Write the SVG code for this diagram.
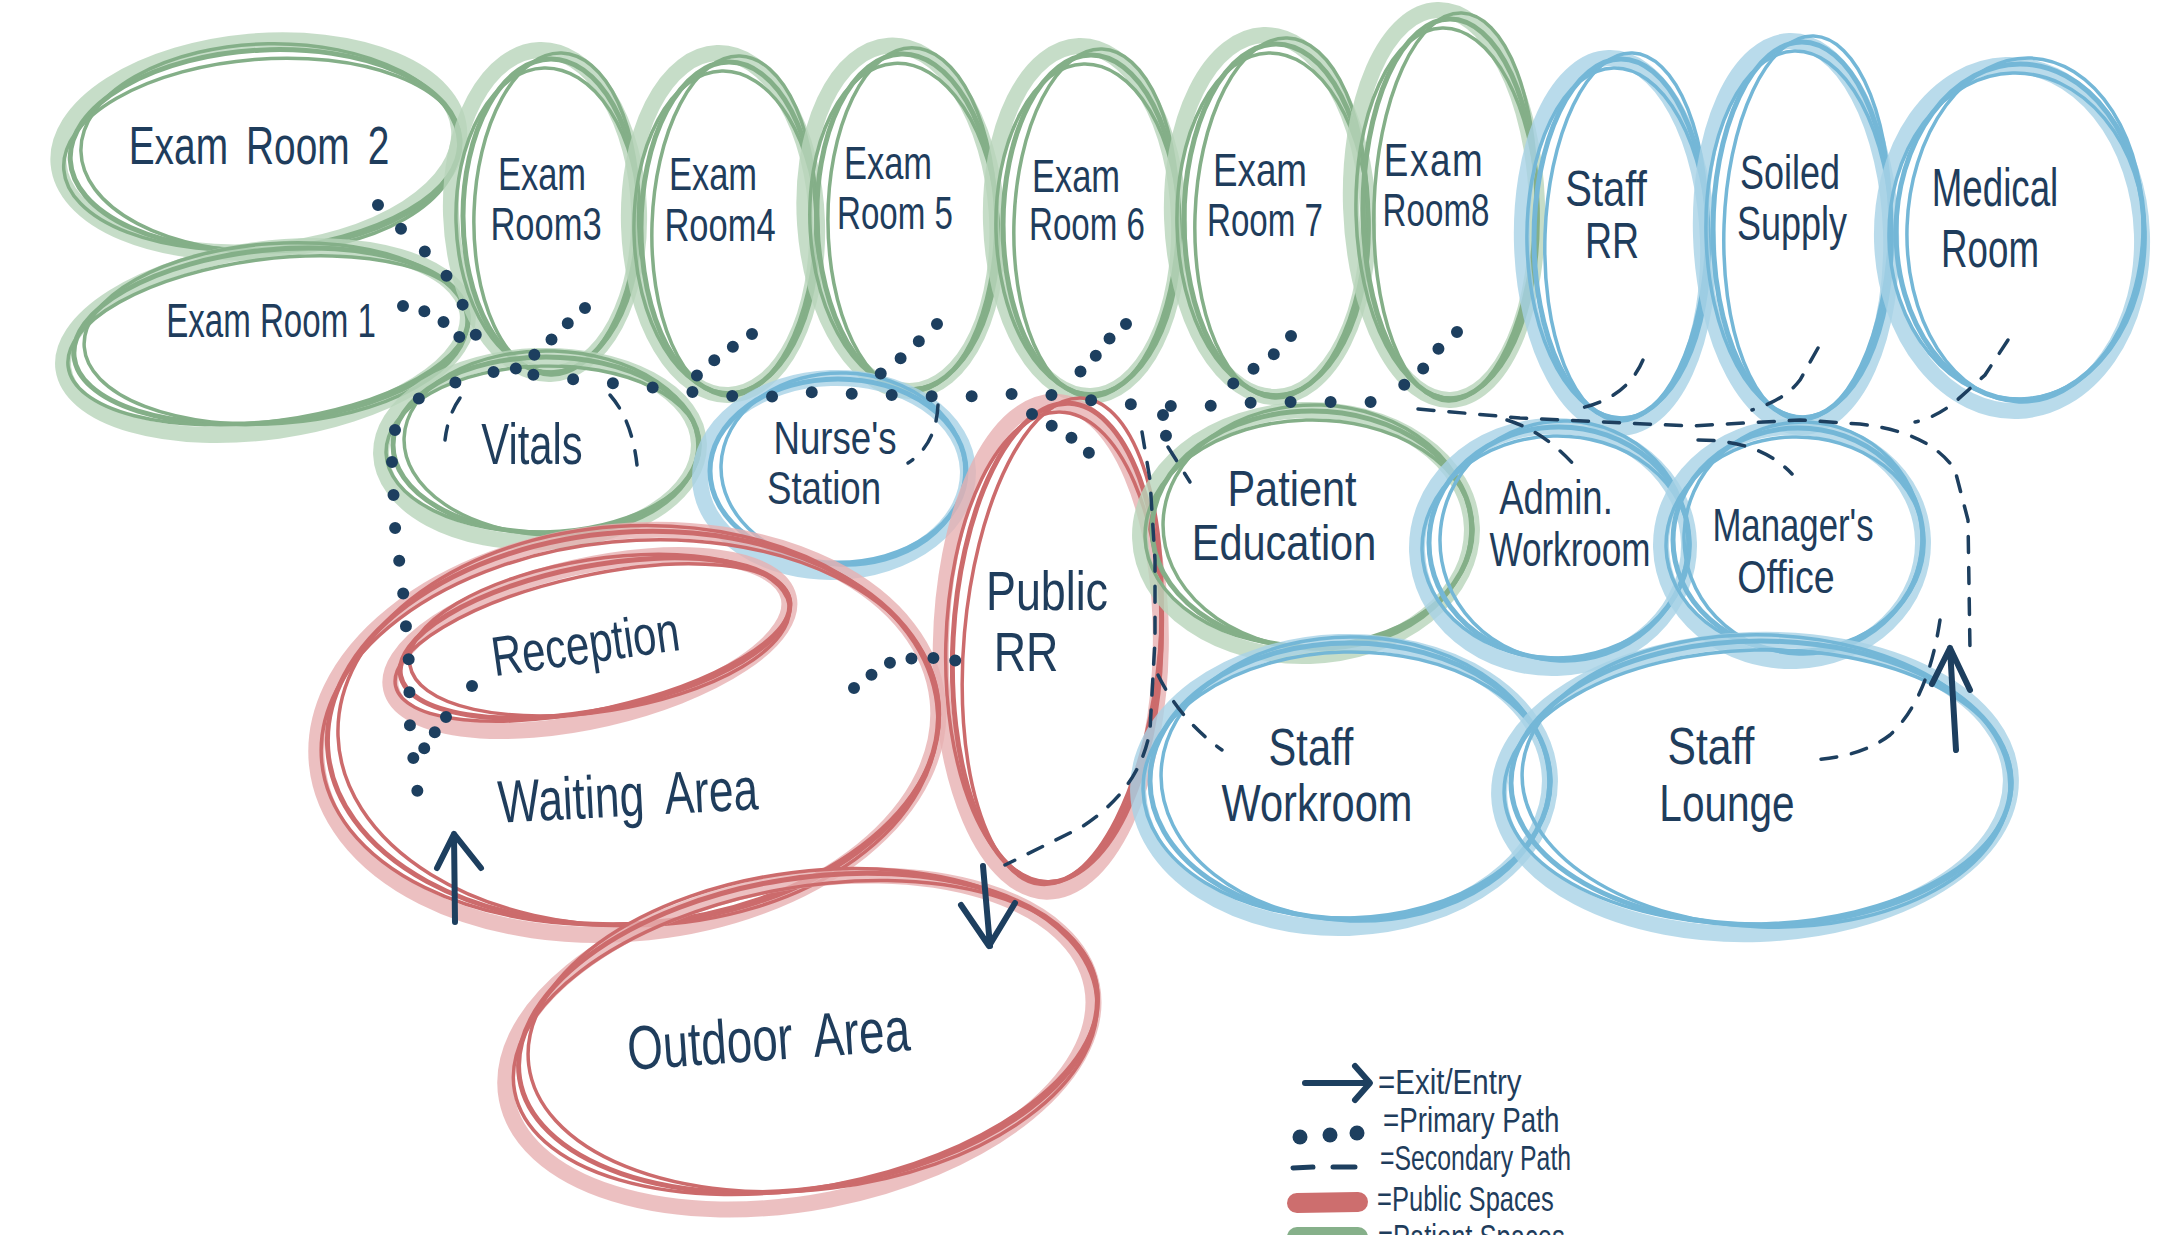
<svg xmlns="http://www.w3.org/2000/svg" width="2183" height="1235" viewBox="0 0 2183 1235">
<style>
.L{fill:none;stroke-width:16;stroke-opacity:.8}
.D{fill:none;stroke-width:5}
.t{stroke-width:3.5}
.grn .L{stroke:#b8d4ba}.grn .D{stroke:#84af88}
.red .L{stroke:#e7b0b2}.red .D{stroke:#cc6b6c}
.blu .L{stroke:#a7d2e6}.blu .D{stroke:#74b7d7}
text{font-family:"Liberation Sans",Arial,sans-serif;fill:#1f3d5c;text-anchor:middle}
.lg{text-anchor:start}
.pp{fill:none;stroke:#1d3f5f;stroke-width:12;stroke-linecap:round}
.sp{fill:none;stroke:#1d3f5f;stroke-width:3.5;stroke-linecap:round;stroke-dasharray:16 15}
.ar{fill:none;stroke:#1d3f5f;stroke-width:6;stroke-linecap:round;stroke-linejoin:round}
</style>
<rect width="2183" height="1235" fill="#fff"/>

<g id="er2" class="grn"><g transform="translate(265,150) rotate(-3)">
<ellipse class="L" rx="201" ry="105" transform="translate(-6,-4) rotate(-2)"/><ellipse class="D" rx="195" ry="100"/><ellipse class="D t" rx="189" ry="104" transform="translate(5,-2) rotate(2)"/><ellipse class="D t" rx="199" ry="95" transform="translate(-3,4) rotate(-1.5)"/></g>
<text transform="translate(259,164) scale(.72,1)" font-size="54" word-spacing="10">Exam Room 2</text></g>

<g id="er1" class="grn"><g transform="translate(271,336) rotate(-6)">
<ellipse class="L" rx="204" ry="91" transform="translate(-6,4) rotate(-2)"/><ellipse class="D" rx="198" ry="86"/><ellipse class="D t" rx="192" ry="90" transform="translate(5,-2) rotate(2)"/><ellipse class="D t" rx="202" ry="81" transform="translate(-3,4) rotate(-1.5)"/></g>
<text transform="translate(271,337) scale(.69,1)" font-size="48">Exam Room 1</text></g>

<g id="er3" class="grn"><g transform="translate(551,216)">
<ellipse class="L" rx="94" ry="162" transform="translate(-6,-4) rotate(-2)"/><ellipse class="D" rx="88" ry="157"/><ellipse class="D t" rx="82" ry="161" transform="translate(5,-2) rotate(2)"/><ellipse class="D t" rx="92" ry="152" transform="translate(-3,4) rotate(-1.5)"/></g>
<text transform="translate(542,190) scale(.75,1)" font-size="46">Exam</text><text transform="translate(546,240) scale(.75,1)" font-size="46">Room3</text></g>

<g id="er4" class="grn"><g transform="translate(729,228)">
<ellipse class="L" rx="94" ry="171" transform="translate(-6,-4) rotate(-2)"/><ellipse class="D" rx="88" ry="166"/><ellipse class="D t" rx="82" ry="170" transform="translate(5,-2) rotate(2)"/><ellipse class="D t" rx="92" ry="161" transform="translate(-3,4) rotate(-1.5)"/></g>
<text transform="translate(713,190) scale(.75,1)" font-size="46">Exam</text><text transform="translate(720,241) scale(.75,1)" font-size="46">Room4</text></g>

<g id="er5" class="grn"><g transform="translate(907,222) rotate(-2)">
<ellipse class="L" rx="96" ry="173" transform="translate(-6,-4) rotate(-2)"/><ellipse class="D" rx="90" ry="168"/><ellipse class="D t" rx="84" ry="172" transform="translate(5,-2) rotate(2)"/><ellipse class="D t" rx="94" ry="163" transform="translate(-3,4) rotate(-1.5)"/></g>
<text transform="translate(888,179) scale(.75,1)" font-size="46">Exam</text><text transform="translate(895,229) scale(.72,1)" font-size="46">Room 5</text></g>

<g id="er6" class="grn"><g transform="translate(1091,225)">
<ellipse class="L" rx="94" ry="175" transform="translate(-6,-4) rotate(-2)"/><ellipse class="D" rx="88" ry="170"/><ellipse class="D t" rx="82" ry="174" transform="translate(5,-2) rotate(2)"/><ellipse class="D t" rx="92" ry="165" transform="translate(-3,4) rotate(-1.5)"/></g>
<text transform="translate(1076,192) scale(.75,1)" font-size="46">Exam</text><text transform="translate(1087,240) scale(.72,1)" font-size="46">Room 6</text></g>

<g id="er7" class="grn"><g transform="translate(1276,220)">
<ellipse class="L" rx="98" ry="181" transform="translate(-6,-4) rotate(-2)"/><ellipse class="D" rx="92" ry="176"/><ellipse class="D t" rx="86" ry="180" transform="translate(5,-2) rotate(2)"/><ellipse class="D t" rx="96" ry="171" transform="translate(-3,4) rotate(-1.5)"/></g>
<text transform="translate(1260,186) scale(.8,1)" font-size="46">Exam</text><text transform="translate(1265,236) scale(.72,1)" font-size="46">Room 7</text></g>

<g id="er8" class="grn"><g transform="translate(1450,209)">
<ellipse class="L" rx="93" ry="195" transform="translate(-6,-4) rotate(-2)"/><ellipse class="D" rx="87" ry="190"/><ellipse class="D t" rx="81" ry="194" transform="translate(5,-2) rotate(2)"/><ellipse class="D t" rx="91" ry="185" transform="translate(-3,4) rotate(-1.5)"/></g>
<text transform="translate(1434,176) scale(.8,1)" font-size="46" letter-spacing="2">Exam</text><text transform="translate(1436,226) scale(.72,1)" font-size="46">Room8</text></g>

<g id="staffrr" class="blu"><g transform="translate(1621,239)">
<ellipse class="L" rx="93" ry="185" transform="translate(-6,4) rotate(-2)"/><ellipse class="D" rx="87" ry="180"/><ellipse class="D t" rx="81" ry="184" transform="translate(5,-2) rotate(2)"/><ellipse class="D t" rx="91" ry="175" transform="translate(-3,4) rotate(-1.5)"/></g>
<text transform="translate(1606,206) scale(.8,1)" font-size="50">Staff</text><text transform="translate(1612,258) scale(.75,1)" font-size="50">RR</text></g>

<g id="soiled" class="blu"><g transform="translate(1802,230)">
<ellipse class="L" rx="95" ry="193" transform="translate(-6,4) rotate(-2)"/><ellipse class="D" rx="89" ry="188"/><ellipse class="D t" rx="83" ry="192" transform="translate(5,-2) rotate(2)"/><ellipse class="D t" rx="93" ry="183" transform="translate(-3,4) rotate(-1.5)"/></g>
<text transform="translate(1790,189) scale(.75,1)" font-size="48">Soiled</text><text transform="translate(1792,240) scale(.75,1)" font-size="48">Supply</text></g>

<g id="medical" class="blu"><g transform="translate(2020,232)">
<ellipse class="L" rx="130" ry="173" transform="translate(-8,6) rotate(-2)"/><ellipse class="D" rx="124" ry="168"/><ellipse class="D t" rx="118" ry="172" transform="translate(5,-2) rotate(2)"/><ellipse class="D t" rx="128" ry="163" transform="translate(-3,4) rotate(-1.5)"/></g>
<text transform="translate(1995,206) scale(.68,1)" font-size="54">Medical</text><text transform="translate(1990,267) scale(.68,1)" font-size="54">Room</text></g>

<g id="vitals" class="grn"><g transform="translate(546,445)">
<ellipse class="L" rx="159" ry="93" transform="translate(-6,4) rotate(-2)"/><ellipse class="D" rx="153" ry="88"/><ellipse class="D t" rx="147" ry="92" transform="translate(5,-2) rotate(2)"/><ellipse class="D t" rx="157" ry="83" transform="translate(-3,4) rotate(-1.5)"/></g>
<text transform="translate(532,464) scale(.72,1)" font-size="58">Vitals</text></g>

<g id="nurses" class="blu"><g transform="translate(838,471)">
<ellipse class="L" rx="134" ry="97" transform="translate(-4,4) rotate(-2)"/><ellipse class="D" rx="128" ry="92"/><ellipse class="D t" rx="122" ry="96" transform="translate(5,-2) rotate(2)"/></g>
<text transform="translate(835,454) scale(.78,1)" font-size="47">Nurse's</text><text transform="translate(824,504) scale(.78,1)" font-size="47">Station</text></g>

<g id="publicrr" class="red"><g transform="translate(1057,643) rotate(3)">
<ellipse class="L" rx="110" ry="245" transform="translate(-6,4) rotate(-2)"/><ellipse class="D" rx="104" ry="240"/><ellipse class="D t" rx="98" ry="244" transform="translate(5,-2) rotate(2)"/><ellipse class="D t" rx="108" ry="235" transform="translate(-3,4) rotate(-1.5)"/></g>
<text transform="translate(1047,610) scale(.8,1)" font-size="56">Public</text><text transform="translate(1026,671) scale(.8,1)" font-size="56">RR</text></g>

<g id="pated" class="grn"><g transform="translate(1312,529)">
<ellipse class="L" rx="166" ry="123" transform="translate(-6,4) rotate(-2)"/><ellipse class="D" rx="160" ry="118"/><ellipse class="D t" rx="154" ry="122" transform="translate(5,-2) rotate(2)"/><ellipse class="D t" rx="164" ry="113" transform="translate(-3,4) rotate(-1.5)"/></g>
<text transform="translate(1292,506) scale(.83,1)" font-size="50">Patient</text><text transform="translate(1284,560) scale(.83,1)" font-size="50">Education</text></g>

<g id="admin" class="blu"><g transform="translate(1559,543)">
<ellipse class="L" rx="136" ry="121" transform="translate(-6,4) rotate(-2)"/><ellipse class="D" rx="130" ry="116"/><ellipse class="D t" rx="124" ry="120" transform="translate(5,-2) rotate(2)"/><ellipse class="D t" rx="134" ry="111" transform="translate(-3,4) rotate(-1.5)"/></g>
<text transform="translate(1556,514) scale(.76,1)" font-size="48">Admin.</text><text transform="translate(1570,566) scale(.73,1)" font-size="48">Workroom</text></g>

<g id="mgr" class="blu"><g transform="translate(1798,540)">
<ellipse class="L" rx="131" ry="117" transform="translate(-6,4) rotate(-2)"/><ellipse class="D" rx="125" ry="112"/><ellipse class="D t" rx="119" ry="116" transform="translate(5,-2) rotate(2)"/><ellipse class="D t" rx="129" ry="107" transform="translate(-3,4) rotate(-1.5)"/></g>
<text transform="translate(1793,541) scale(.74,1)" font-size="47">Manager's</text><text transform="translate(1786,593) scale(.8,1)" font-size="47">Office</text></g>

<g id="reception" class="red"><g transform="translate(595,638) rotate(-11)">
<ellipse class="L" rx="204" ry="77" transform="translate(-6,4) rotate(-2)"/><ellipse class="D" rx="198" ry="72"/><ellipse class="D t" rx="192" ry="76" transform="translate(5,-2) rotate(2)"/><ellipse class="D t" rx="202" ry="67" transform="translate(-3,4) rotate(-1.5)"/></g>
<text transform="translate(588,663) rotate(-8) scale(.75,1)" font-size="56">Reception</text></g>

<g id="waiting" class="red"><g transform="translate(633,728) rotate(-4)">
<ellipse class="L" rx="312" ry="201" transform="translate(-6,4) rotate(-2)"/><ellipse class="D" rx="306" ry="196"/><ellipse class="D t" rx="300" ry="200" transform="translate(5,-2) rotate(2)"/><ellipse class="D t" rx="310" ry="191" transform="translate(-3,4) rotate(-1.5)"/></g>
<text transform="translate(629,816) rotate(-3) scale(.74,1)" font-size="60" word-spacing="14">Waiting Area</text></g>

<g id="outdoor" class="red"><g transform="translate(808,1033) rotate(-9)">
<ellipse class="L" rx="298" ry="160" transform="translate(-10,8) rotate(-2)"/><ellipse class="D" rx="292" ry="155"/><ellipse class="D t" rx="286" ry="159" transform="translate(5,-2) rotate(2)"/><ellipse class="D t" rx="296" ry="150" transform="translate(-3,4) rotate(-1.5)"/></g>
<text transform="translate(770,1060) rotate(-4) scale(.74,1)" font-size="62" word-spacing="14">Outdoor Area</text></g>

<g id="staffwork" class="blu"><g transform="translate(1350,781)">
<ellipse class="L" rx="206" ry="143" transform="translate(-6,4) rotate(-2)"/><ellipse class="D" rx="200" ry="138"/><ellipse class="D t" rx="194" ry="142" transform="translate(5,-2) rotate(2)"/><ellipse class="D t" rx="204" ry="133" transform="translate(-3,4) rotate(-1.5)"/></g>
<text transform="translate(1311,765) scale(.8,1)" font-size="52">Staff</text><text transform="translate(1317,821) scale(.8,1)" font-size="52">Workroom</text></g>

<g id="lounge" class="blu"><g transform="translate(1761,783)">
<ellipse class="L" rx="256" ry="147" transform="translate(-6,4) rotate(-2)"/><ellipse class="D" rx="250" ry="142"/><ellipse class="D t" rx="244" ry="146" transform="translate(5,-2) rotate(2)"/><ellipse class="D t" rx="254" ry="137" transform="translate(-3,4) rotate(-1.5)"/></g>
<text transform="translate(1711,764) scale(.82,1)" font-size="52">Staff</text><text transform="translate(1727,821) scale(.78,1)" font-size="52">Lounge</text></g>

<g id="connectors">
<path class="pp" stroke-dasharray="0 40" d="M395,430 Q408,398 440,388 L484,372 L512,372 L551,377 L640,386 L720,395 L760,398 L806,392 L888,395 L960,397 L1030,393 L1072,397 L1108,403 L1145,405 L1193,407 L1262,402 L1378,402"/>
<path class="pp" stroke-dasharray="0 33" d="M392,462 L395,527 L403,591 L409,663 L410,731 L418,796"/>
<path class="pp" stroke-dasharray="0 33" d="M378,205 L412,240 L440,265 L458,295 L470,320 L484,356"/>
<path class="pp" stroke-dasharray="0 22" d="M403,306 L424,311 L447,324 L464,342"/>
<path class="pp" stroke-dasharray="0 23" d="M585,308 L568,323 L550,341 L533,356 L511,372"/>
<path class="pp" stroke-dasharray="0 23" d="M752,334 L731,348 L712,362 L694,378"/>
<path class="pp" stroke-dasharray="0 25" d="M937,324 L919,341 L901,358 L880,374"/>
<path class="pp" stroke-dasharray="0 22" d="M1126,324 L1108,340 L1094,358 L1080,372"/>
<path class="pp" stroke-dasharray="0 25" d="M1291,336 L1274,354 L1249,372 L1231,385"/>
<path class="pp" stroke-dasharray="0 25" d="M1457,332 L1439,348 L1422,370 L1404,385"/>
<path class="pp" stroke-dasharray="0 23" d="M1032,414 L1052,426 L1072,438 L1095,458"/>
<path class="pp" stroke-dasharray="0 21" d="M1163,415 L1166,436"/>
<path class="pp" stroke-dasharray="0 18" d="M472,686 L489,681"/>
<path class="pp" stroke-dasharray="0 19" d="M446,717 L435,732 L423,750"/>
<path class="pp" stroke-dasharray="0 22" d="M854,688 L871,675 L891,662 L914,658 L937,658 L966,662"/>

<path class="sp" d="M460,398 Q448,415 445,440"/>
<path class="sp" d="M610,395 Q632,420 637,465"/>
<path class="sp" d="M938,405 Q936,445 908,463"/>
<path class="sp" d="M1142,432 L1150,480 L1155,560 L1155,640 L1150,730 Q1140,790 1080,828 L1005,865"/>
<path class="sp" d="M1168,447 L1190,482"/>
<path class="sp" d="M1158,675 Q1180,720 1222,750"/>
<path class="sp" d="M1418,409 L1520,418 L1690,426 L1800,420 L1860,424 Q1930,432 1955,470 L1968,520 L1970,650"/>
<path class="sp" d="M1940,620 Q1928,700 1890,735 Q1860,758 1808,760"/>
<path class="sp" d="M1643,360 Q1625,402 1570,410"/>
<path class="sp" d="M1818,348 L1800,380 Q1785,400 1752,410"/>
<path class="sp" d="M2008,340 L1985,375 L1955,402 Q1935,418 1915,422"/>
<path class="sp" d="M1507,420 Q1545,432 1575,466"/>
<path class="sp" d="M1698,440 Q1760,440 1792,474"/>

<path class="ar" d="M455,922 L454,834 M437,868 L454,834 L481,868"/>
<path class="ar" d="M983,866 L990,946 M961,905 L989,946 L1015,903"/>
<path class="ar" d="M1956,750 L1950,648 M1932,684 L1950,648 L1970,690"/>
</g>

<g id="legend">
<path class="ar" stroke-width="9" d="M1305,1083 L1368,1083 M1355,1066 L1370,1083 L1355,1100"/>
<text class="lg" transform="translate(1378,1094) scale(.82,1)" font-size="36">=Exit/Entry</text>
<circle cx="1300" cy="1137" r="7.5" fill="#1d3f5f"/><circle cx="1330" cy="1135" r="7.5" fill="#1d3f5f"/><circle cx="1357" cy="1133" r="7.5" fill="#1d3f5f"/>
<text class="lg" transform="translate(1383,1132) scale(.77,1)" font-size="36">=Primary Path</text>
<path fill="none" stroke="#1d3f5f" stroke-width="5" stroke-linecap="round" d="M1293,1168 L1313,1167 M1333,1167 L1355,1167"/>
<text class="lg" transform="translate(1380,1170) scale(.69,1)" font-size="36">=Secondary Path</text>
<path fill="none" stroke="#cd6e6e" stroke-width="20" stroke-linecap="round" d="M1297,1203 L1358,1202"/>
<text class="lg" transform="translate(1377,1211) scale(.71,1)" font-size="36">=Public Spaces</text>
<path fill="none" stroke="#86b08a" stroke-width="20" stroke-linecap="round" d="M1297,1237 L1358,1237"/>
<text class="lg" transform="translate(1378,1249) scale(.71,1)" font-size="36">=Patient Spaces</text>
</g>
</svg>
